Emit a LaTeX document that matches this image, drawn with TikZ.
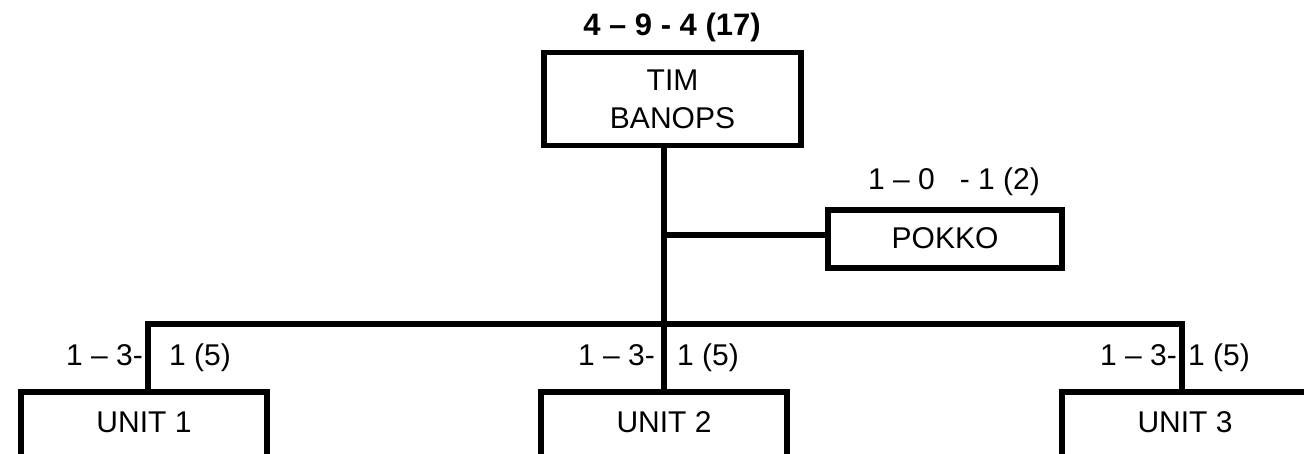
\documentclass[tikz,border=0pt]{standalone}
\usepackage{fontspec}
\setmainfont{Liberation Sans}
\begin{document}
\begin{tikzpicture}[x=1pt,y=-1pt,
  txt/.style={font=\fontsize{30}{37.5}\selectfont},
  box/.style={txt, draw, line width=5.5pt, inner sep=0pt},
  unitbox/.style={box, anchor=north, minimum width=246pt, minimum height=100pt, text height=21.5pt, text depth=39.5pt},
  lbl/.style={txt, inner sep=0pt},
  wire/.style={line width=5.5pt}]
\useasboundingbox (0,0) rectangle (1304,454);
\clip (0,0) rectangle (1304,454);

% boxes
\node[box, minimum width=256.6pt, minimum height=93.3pt, align=center] (tim) at (672.5,99.1) {TIM\\BANOPS};
\node[box, minimum width=234pt, minimum height=58pt, text height=21.5pt, text depth=2pt] (pokko) at (945,239) {POKKO};
\node[unitbox] (u1) at (144,389) {UNIT 1};
\node[unitbox] (u2) at (664,389) {UNIT 2};
\node[unitbox] (u3) at (1185,389) {UNIT 3};

% junction points
\coordinate (bl) at (148,324);
\coordinate (bm) at (664,324);
\coordinate (br) at (1182,324);
\coordinate (j) at (664,235);

% connectors
\draw[wire] (u1.north -| bl) -- (bl) -- (br) -- (u3.north -| br);
\draw[wire] (tim.south -| bm) -- (u2.north -| bm);
\draw[wire] (j) -- (pokko.west |- j);

% labels
\node[lbl, font=\fontsize{31}{37.5}\selectfont\bfseries, anchor=base] (ltop) at (672,35.5) {4 – 9 - 4 (17)};
\node[lbl, anchor=base] (lpokko) at (954,190) {1 – 0\ \ \ - 1 (2)};
\node[lbl, anchor=base east] (l1a) at (143,365.5) {1 – 3-};
\node[lbl, anchor=base west] (l1b) at (169,365.5) {1 (5)};
\node[lbl, anchor=base east] (l2a) at (655,365.5) {1 – 3-};
\node[lbl, anchor=base west] (l2b) at (677,365.5) {1 (5)};
\node[lbl, anchor=base east] (l3a) at (1177,365.5) {1 – 3-};
\node[lbl, anchor=base west] (l3b) at (1188,365.5) {1 (5)};
\end{tikzpicture}
\end{document}
